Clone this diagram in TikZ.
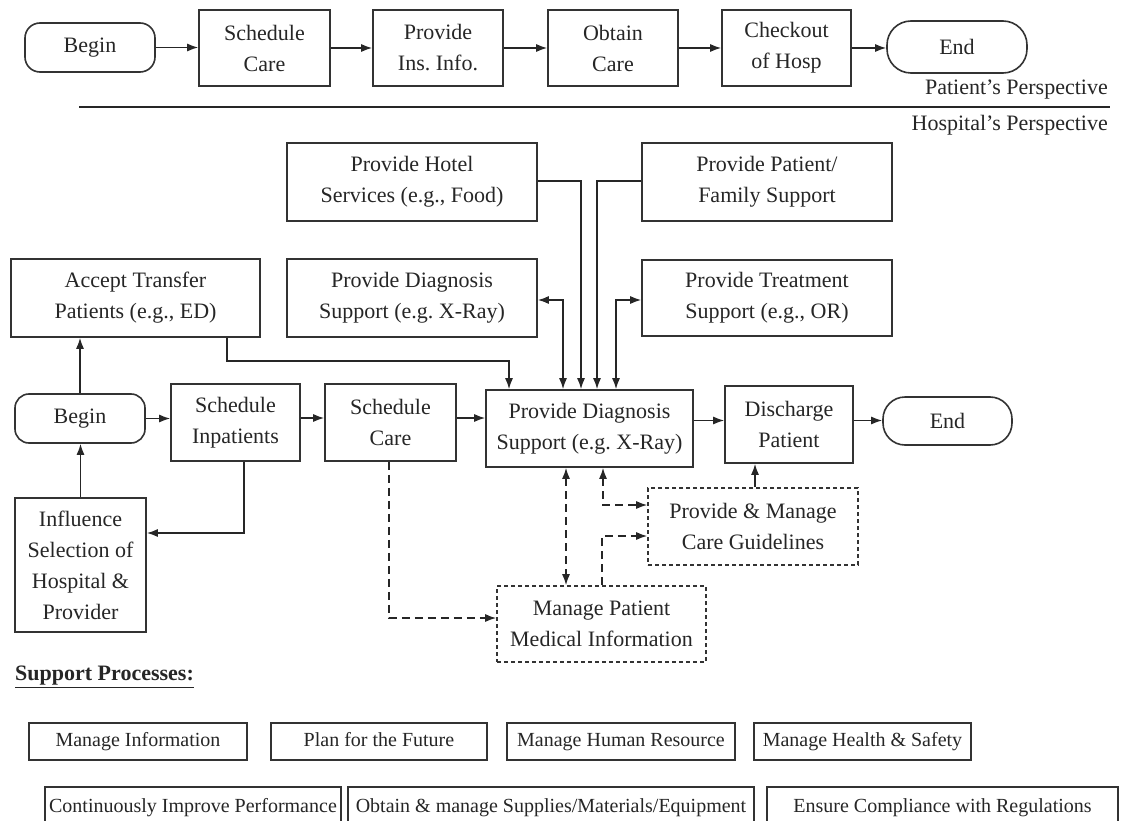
\documentclass[tikz,border=0pt]{standalone}
\usepackage{fontspec}
\setmainfont{Liberation Serif}
\usetikzlibrary{arrows.meta}
\frenchspacing
\begin{document}
\begin{tikzpicture}[x=1pt,y=-1pt,
  every node/.style={font=\fontsize{22}{31}\selectfont, text=black!85},
  sz/.style 2 args={minimum width=#1pt, minimum height=#2pt},
  box/.style={draw=black!80, line width=1.6pt, align=center, inner sep=0pt},
  term/.style={box, rounded corners=15pt},
  dbox/.style={box, dash pattern=on 4pt off 3pt},
  sbox/.style={box, font=\fontsize{20}{24}\selectfont, minimum height=37pt, text height=14pt, text depth=4pt},
  lbl/.style={inner sep=0pt},
  tip/.tip={Latex[length=11pt,width=8pt]},
  arr/.style={draw=black!85, line width=1.5pt, -tip},
  darr/.style={arr, dash pattern=on 8pt off 5pt},
  both/.style={tip-tip},
]
\fill[white] (0,0) rectangle (1121,821);
\clip (0,0) rectangle (1121,821);

% ---- patient's perspective ----
\node[term, sz={130}{49}] (tBegin) at (90,47.5) {Begin};
\node[box, sz={131}{76}] (tSched) at (264.5,48) {Schedule\\Care};
\node[box, sz={130}{76}] (tIns) at (438,48) {Provide\\Ins. Info.};
\node[box, sz={130}{76}] (tObtain) at (613,48) {Obtain\\Care};
\node[box, sz={129}{76}] (tCheck) at (786.5,48) {Checkout\\of Hosp};
\node[term, rounded corners=24pt, sz={140}{52}] (tEnd) at (957,47) {End};

\draw[arr] (tBegin.east) -- (tBegin.east -| tSched.west);
\draw[arr] (tSched.east) -- (tSched.east -| tIns.west);
\draw[arr] (tIns.east) -- (tIns.east -| tObtain.west);
\draw[arr] (tObtain.east) -- (tObtain.east -| tCheck.west);
\draw[arr] (tCheck.east) -- (tCheck.east -| tEnd.west);

% divider between the two perspectives
\coordinate (dL) at (79,107);
\coordinate (dR) at (1110,107);
\draw[draw=black!85, line width=1.5pt] (dL) -- (dR);
\node[lbl, anchor=east] (pp) at (1108,90) {Patient's Perspective};
\node[lbl, anchor=east] (hp) at (1108,125) {Hospital's Perspective};

% ---- hospital's perspective ----
\node[box, sz={250}{78}] (hotel) at (412,182) {Provide Hotel\\Services (e.g., Food)};
\node[box, sz={250}{78}] (family) at (767,182) {Provide Patient/\\Family Support};
\node[box, sz={249}{78}] (accept) at (135.5,298) {Accept Transfer\\Patients (e.g., ED)};
\node[box, sz={250}{78}] (diagUp) at (412,298) {Provide Diagnosis\\Support (e.g. X-Ray)};
\node[box, sz={250}{76}] (treat) at (767,298) {Provide Treatment\\Support (e.g., OR)};

\node[term, rounded corners=14pt, sz={130}{49}] (mBegin) at (80,418.5) {Begin};
\node[box, sz={129}{77}] (schedInp) at (235.5,422.5) {Schedule\\Inpatients};
\node[box, sz={131}{77}] (schedCare) at (390.5,422.5) {Schedule\\Care};
\node[box, sz={207}{77}] (diag) at (589.5,428.5) {Provide Diagnosis\\Support (e.g. X-Ray)};
\node[box, sz={128}{77}] (discharge) at (789,424.5) {Discharge\\Patient};
\node[term, rounded corners=22pt, sz={129}{48}] (mEnd) at (947.5,421) {End};

\node[box, sz={131}{134}] (influence) at (80.5,565) {Influence\\Selection of\\Hospital \&\\Provider};
\node[dbox, sz={210}{77}] (guide) at (753,526.5) {Provide \& Manage\\Care Guidelines};
\node[dbox, sz={209}{76}] (mpi) at (601.5,624) {Manage Patient\\Medical Information};

% main flow
\draw[arr] (mBegin.east) -- (mBegin.east -| schedInp.west);
\draw[arr] ([yshift=4.5pt]schedInp.east) -- ([yshift=4.5pt]schedInp.east -| schedCare.west);
\draw[arr] ([yshift=4.5pt]schedCare.east) -- ([yshift=4.5pt]schedCare.east -| diag.west);
\draw[arr] ([yshift=8pt]diag.east) -- ([yshift=8pt]diag.east -| discharge.west);
\draw[arr] ([yshift=4pt]discharge.east) -- ([yshift=4pt]discharge.east -| mEnd.west);

% side branches
\draw[arr] (mBegin.north) -- (mBegin.north |- accept.south);
\draw[arr] (influence.north) -- (influence.north |- mBegin.south);
\draw[arr] ([xshift=8.5pt]schedInp.south) |- ([yshift=32pt]influence.east);
\draw[arr] ([xshift=91.5pt]accept.south) -- ++(0,23) -| ([xshift=-80.5pt]diag.north);

% services feeding the diagnosis step
\draw[arr] ([yshift=1pt]hotel.east) -| ([xshift=-8.5pt]diag.north);
\draw[arr] ([yshift=1pt]family.west) -| ([xshift=7.5pt]diag.north);
\draw[arr, both] ([yshift=-2pt]diagUp.east) -| ([xshift=-26.5pt]diag.north);
\draw[arr, both] ([yshift=-2pt]treat.west) -| ([xshift=26.5pt]diag.north);

% information and guideline links
\draw[darr] ([xshift=-1.5pt]schedCare.south) |- ([yshift=6pt]mpi.west);
\draw[darr, both] ([xshift=-23.5pt]diag.south) -- ([xshift=-35.5pt]mpi.north);
\draw[darr, both] ([xshift=13.5pt]diag.south) |- ([yshift=21.5pt]guide.west);
\draw[darr] ([xshift=0.5pt]mpi.north) |- ([yshift=-9.5pt]guide.west);
\draw[arr] ([xshift=2pt]guide.north) -- ([xshift=-34pt]discharge.south);

% ---- support processes ----
\node[lbl, anchor=west, font=\fontsize{22}{31}\selectfont\bfseries] (sp) at (15,677) {\underline{Support Processes:}};
\node[sbox, minimum width=218pt] (s1) at (138,741.5) {Manage Information};
\node[sbox, minimum width=216pt] (s2) at (379,741.5) {Plan for the Future};
\node[sbox, minimum width=228pt] (s3) at (621,741.5) {Manage Human Resource};
\node[sbox, minimum width=217pt] (s4) at (862.5,741.5) {Manage Health \& Safety};
\node[sbox, minimum width=296pt, minimum height=40pt] (s5) at (193,807) {Continuously Improve Performance};
\node[sbox, minimum width=406pt, minimum height=40pt] (s6) at (551,807) {Obtain \& manage Supplies/Materials/Equipment};
\node[sbox, minimum width=351pt, minimum height=40pt] (s7) at (942.5,807) {Ensure Compliance with Regulations};
\end{tikzpicture}
\end{document}
